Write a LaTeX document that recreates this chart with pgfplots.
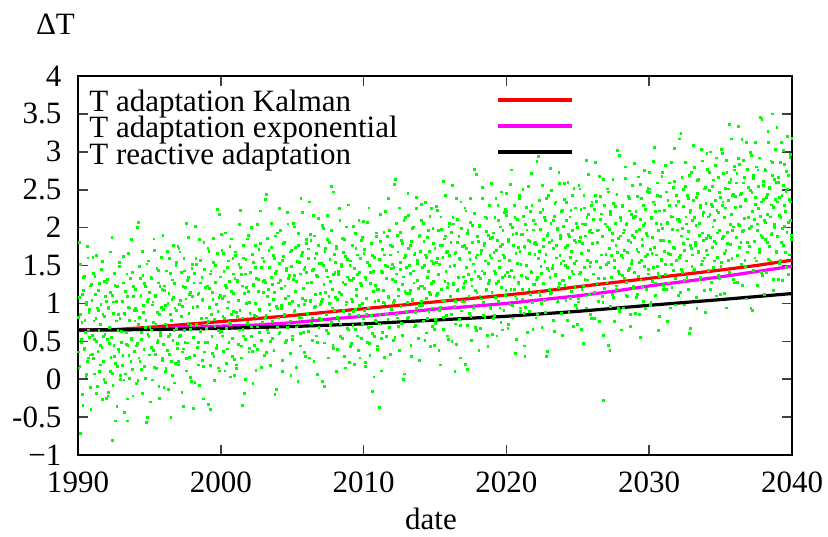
\documentclass[border=0pt]{standalone}
\usepackage{fontspec}
\setmainfont{Liberation Serif}
\usepackage{pgfplots}
\pgfplotsset{compat=1.18}
\definecolor{gp}{RGB}{0,255,0}
\definecolor{rd}{RGB}{255,0,0}
\definecolor{mg}{RGB}{255,0,255}
\definecolor{bk}{RGB}{0,0,0}
\begin{document}
\fontsize{15.5}{18}\selectfont
\begin{tikzpicture}
\useasboundingbox (-39pt,-40.5pt) rectangle (375pt,227.5pt);
\begin{axis}[
 at={(0,0)}, anchor=south west,
 scale only axis, width=357pt, height=189.5pt,
 xmin=1990, xmax=2040, ymin=-1, ymax=4,
 xtick={1990,2000,2010,2020,2030,2040},
 xticklabels={1990,2000,2010,2020,2030,2040},
 ytick={-1,-0.5,0,0.5,1,1.5,2,2.5,3,3.5,4},
 yticklabels={−1,-0.5,0,0.5,1,1.5,2,2.5,3,3.5,4},
 tick align=inside, major tick length=5pt,
 tick style={line width=0.8pt, color=black!75},
 axis line style={line width=1pt},
 xticklabel style={yshift=-3pt},
 yticklabel style={xshift=-3pt},
 ticklabel style={font=\fontsize{15.5}{18}\selectfont},
 xlabel={date},
 xlabel style={at={(axis description cs:0.4944,0)}, anchor=center, yshift=-32pt, font=\fontsize{15.5}{18}\selectfont},
 ylabel={ΔT},
 ylabel style={at={(axis description cs:0,1)}, rotate=-90, anchor=center, xshift=-11.25pt, yshift=25.75pt, font=\fontsize{15.5}{18}\selectfont},
 clip=true,
]
\addplot[only marks, mark=square*, mark size=0.45pt, color=gp, mark options={draw=none, fill=gp}] coordinates {
(1990.02,0.82)(1990.07,0.15)(1990.12,1.08)(1990.16,1.51)(1990.22,0.48)(1990.27,0.75)(1990.31,-0.20)(1990.37,1.17)(1990.42,0.39)(1990.46,1.36)(1990.52,0.62)(1990.57,0.99)(1990.61,0.06)(1990.67,1.75)(1990.72,0.28)(1990.76,0.88)(1990.82,0.55)(1990.87,1.23)(1990.91,-0.40)(1990.97,1.04)
(1991.02,0.33)(1991.07,1.40)(1991.12,0.77)(1991.16,0.07)(1991.22,1.12)(1991.27,0.50)(1991.31,1.63)(1991.37,-0.09)(1991.42,0.91)(1991.46,0.64)(1991.52,1.26)(1991.57,0.19)(1991.61,0.99)(1991.67,0.42)(1991.72,1.55)(1991.76,0.56)(1991.82,0.00)(1991.87,0.83)(1991.91,1.09)(1991.97,-0.25)
(1992.02,1.27)(1992.07,0.52)(1992.12,-0.17)(1992.16,0.93)(1992.22,0.68)(1992.27,1.15)(1992.31,0.29)(1992.37,1.87)(1992.42,0.08)(1992.46,1.02)(1992.52,0.45)(1992.57,1.40)(1992.61,0.21)(1992.67,0.77)(1992.72,-0.36)(1992.76,1.22)(1992.82,0.85)(1992.87,0.37)(1992.91,1.54)(1992.97,0.00)
(1993.02,0.63)(1993.07,1.03)(1993.12,0.18)(1993.16,1.62)(1993.22,-0.01)(1993.27,0.87)(1993.31,1.16)(1993.37,0.46)(1993.42,1.39)(1993.46,-0.26)(1993.52,0.95)(1993.57,0.31)(1993.61,0.78)(1993.67,1.33)(1993.72,0.54)(1993.76,1.84)(1993.82,0.13)(1993.87,1.09)(1993.91,0.37)(1993.97,0.91)
(1994.02,1.18)(1994.07,-0.06)(1994.12,0.91)(1994.16,0.47)(1994.22,2.07)(1994.27,0.28)(1994.31,0.82)(1994.37,1.33)(1994.42,0.62)(1994.46,0.13)(1994.52,1.69)(1994.57,0.97)(1994.61,0.39)(1994.67,1.26)(1994.72,0.01)(1994.76,0.78)(1994.82,1.52)(1994.87,-0.50)(1994.91,1.06)(1994.97,0.56)
(1995.02,1.14)(1995.07,-0.30)(1995.12,1.33)(1995.16,0.65)(1995.22,0.98)(1995.27,0.38)(1995.31,1.85)(1995.37,0.16)(1995.42,1.09)(1995.46,0.72)(1995.52,1.46)(1995.57,0.49)(1995.61,1.27)(1995.67,-0.10)(1995.72,0.85)(1995.76,0.58)(1995.82,1.61)(1995.87,1.18)(1995.91,0.25)(1995.97,0.92)
(1996.02,-0.11)(1996.07,1.23)(1996.12,0.97)(1996.16,0.14)(1996.22,0.70)(1996.27,1.69)(1996.31,0.56)(1996.37,1.13)(1996.42,0.33)(1996.46,1.40)(1996.52,0.78)(1996.57,1.05)(1996.61,0.05)(1996.67,1.77)(1996.72,0.64)(1996.76,1.26)(1996.82,0.21)(1996.87,0.91)(1996.91,1.54)(1996.97,0.47)
(1997.02,0.19)(1997.07,1.73)(1997.12,0.56)(1997.16,1.04)(1997.22,1.41)(1997.27,-0.17)(1997.31,0.96)(1997.37,0.40)(1997.42,1.59)(1997.46,0.64)(1997.52,1.21)(1997.57,0.27)(1997.61,2.06)(1997.67,0.48)(1997.72,1.34)(1997.76,0.87)(1997.82,1.12)(1997.87,0.02)(1997.91,0.71)(1997.97,1.46)
(1998.02,1.09)(1998.07,0.55)(1998.12,1.27)(1998.16,0.31)(1998.22,2.02)(1998.27,0.72)(1998.31,1.51)(1998.37,0.96)(1998.42,0.49)(1998.46,1.13)(1998.52,-0.08)(1998.57,1.57)(1998.61,0.64)(1998.67,1.34)(1998.72,1.05)(1998.76,0.17)(1998.82,1.80)(1998.87,0.36)(1998.91,1.21)(1998.97,0.81)
(1999.02,0.73)(1999.07,1.23)(1999.12,-0.33)(1999.16,1.69)(1999.22,0.95)(1999.27,0.18)(1999.31,1.43)(1999.37,0.56)(1999.42,1.14)(1999.46,1.86)(1999.52,0.30)(1999.57,0.79)(1999.61,1.50)(1999.67,0.99)(1999.72,0.45)(1999.76,2.24)(1999.82,0.64)(1999.87,1.08)(1999.91,0.11)(1999.97,1.35)
(2000.02,0.63)(2000.07,1.70)(2000.12,1.07)(2000.16,0.37)(2000.22,1.42)(2000.27,0.80)(2000.31,1.93)(2000.37,0.21)(2000.42,1.21)(2000.46,0.94)(2000.52,1.56)(2000.57,0.49)(2000.61,1.29)(2000.67,0.72)(2000.72,1.85)(2000.76,0.86)(2000.82,0.30)(2000.87,1.13)(2000.91,1.39)(2000.97,0.05)
(2001.02,1.63)(2001.07,0.88)(2001.12,0.19)(2001.16,1.29)(2001.22,1.04)(2001.27,1.51)(2001.31,0.65)(2001.37,2.23)(2001.42,0.44)(2001.46,1.38)(2001.52,0.81)(2001.57,1.76)(2001.61,0.57)(2001.67,1.13)(2001.72,0.00)(2001.76,1.58)(2001.82,1.21)(2001.87,0.73)(2001.91,1.90)(2001.97,0.36)
(2002.02,1.01)(2002.07,1.41)(2002.12,0.56)(2002.16,2.00)(2002.22,0.37)(2002.27,1.25)(2002.31,1.54)(2002.37,0.84)(2002.42,1.77)(2002.46,0.12)(2002.52,1.33)(2002.57,0.69)(2002.61,1.16)(2002.67,1.71)(2002.72,0.92)(2002.76,2.22)(2002.82,0.51)(2002.87,1.47)(2002.91,0.75)(2002.97,1.29)
(2003.02,1.55)(2003.07,0.31)(2003.12,1.28)(2003.16,0.84)(2003.22,2.44)(2003.27,0.65)(2003.31,1.19)(2003.37,1.70)(2003.42,0.99)(2003.46,0.50)(2003.52,2.06)(2003.57,1.34)(2003.61,0.76)(2003.67,1.63)(2003.72,0.38)(2003.76,1.15)(2003.82,1.89)(2003.87,-0.13)(2003.91,1.43)(2003.97,0.93)
(2004.02,1.27)(2004.07,0.60)(2004.12,1.53)(2004.16,1.96)(2004.22,0.93)(2004.27,1.20)(2004.31,0.25)(2004.37,1.62)(2004.42,0.84)(2004.46,1.81)(2004.52,1.07)(2004.57,1.44)(2004.61,0.51)(2004.67,2.20)(2004.72,0.73)(2004.76,1.33)(2004.82,1.00)(2004.87,1.68)(2004.91,0.05)(2004.97,1.49)
(2005.02,0.52)(2005.07,2.06)(2005.12,0.89)(2005.16,1.37)(2005.22,1.74)(2005.27,0.16)(2005.31,1.29)(2005.37,0.73)(2005.42,1.92)(2005.46,0.97)(2005.52,1.54)(2005.57,0.60)(2005.61,2.39)(2005.67,0.81)(2005.72,1.67)(2005.76,1.20)(2005.82,1.45)(2005.87,0.35)(2005.91,1.04)(2005.97,1.79)
(2006.02,1.41)(2006.07,0.87)(2006.12,1.59)(2006.16,0.63)(2006.22,2.34)(2006.27,1.04)(2006.31,1.83)(2006.37,1.28)(2006.42,0.81)(2006.46,1.45)(2006.52,0.24)(2006.57,1.89)(2006.61,0.96)(2006.67,1.66)(2006.72,1.37)(2006.76,0.49)(2006.82,2.12)(2006.87,0.68)(2006.91,1.53)(2006.97,1.13)
(2007.02,1.03)(2007.07,1.53)(2007.12,-0.03)(2007.16,1.99)(2007.22,1.25)(2007.27,0.48)(2007.31,1.73)(2007.37,0.86)(2007.42,1.44)(2007.46,2.16)(2007.52,0.60)(2007.57,1.09)(2007.61,1.80)(2007.67,1.29)(2007.72,0.75)(2007.76,2.54)(2007.82,0.94)(2007.87,1.38)(2007.91,0.41)(2007.97,1.65)
(2008.02,1.54)(2008.07,0.10)(2008.12,1.73)(2008.16,1.05)(2008.22,1.38)(2008.27,0.78)(2008.31,2.25)(2008.37,0.56)(2008.42,1.49)(2008.46,1.12)(2008.52,1.86)(2008.57,0.89)(2008.61,1.67)(2008.67,0.30)(2008.72,1.25)(2008.76,0.98)(2008.82,2.01)(2008.87,1.58)(2008.91,0.65)(2008.97,1.32)
(2009.02,0.22)(2009.07,1.56)(2009.12,1.30)(2009.16,0.47)(2009.22,1.03)(2009.27,2.02)(2009.31,0.89)(2009.37,1.46)(2009.42,0.66)(2009.46,1.73)(2009.52,1.11)(2009.57,1.38)(2009.61,0.38)(2009.67,2.10)(2009.72,0.97)(2009.76,1.59)(2009.82,0.54)(2009.87,1.24)(2009.91,1.87)(2009.97,0.80)
(2010.02,1.66)(2010.07,0.91)(2010.12,0.22)(2010.16,1.32)(2010.22,1.07)(2010.27,1.54)(2010.31,0.68)(2010.37,2.26)(2010.42,0.47)(2010.46,1.41)(2010.52,0.84)(2010.57,1.79)(2010.61,0.60)(2010.67,1.16)(2010.72,0.03)(2010.76,1.61)(2010.82,1.24)(2010.87,0.76)(2010.91,1.93)(2010.97,0.39)
(2011.02,1.18)(2011.07,1.58)(2011.12,0.73)(2011.16,2.17)(2011.22,0.54)(2011.27,1.42)(2011.31,1.71)(2011.37,1.01)(2011.42,1.94)(2011.46,0.29)(2011.52,1.50)(2011.57,0.86)(2011.61,1.33)(2011.67,1.88)(2011.72,1.09)(2011.76,2.39)(2011.82,0.68)(2011.87,1.64)(2011.91,0.92)(2011.97,1.46)
(2012.02,1.75)(2012.07,0.51)(2012.12,1.48)(2012.16,1.04)(2012.22,2.64)(2012.27,0.85)(2012.31,1.39)(2012.37,1.90)(2012.42,1.19)(2012.46,0.70)(2012.52,2.26)(2012.57,1.54)(2012.61,0.96)(2012.67,1.83)(2012.72,0.58)(2012.76,1.35)(2012.82,2.09)(2012.87,0.07)(2012.91,1.63)(2012.97,1.13)
(2013.02,1.47)(2013.07,0.80)(2013.12,1.73)(2013.16,2.16)(2013.22,1.13)(2013.27,1.40)(2013.31,0.45)(2013.37,1.82)(2013.42,1.04)(2013.46,2.01)(2013.52,1.27)(2013.57,1.64)(2013.61,0.71)(2013.67,2.40)(2013.72,0.93)(2013.76,1.53)(2013.82,1.20)(2013.87,1.88)(2013.91,0.25)(2013.97,1.69)
(2014.02,1.03)(2014.07,2.10)(2014.12,1.47)(2014.16,0.77)(2014.22,1.82)(2014.27,1.20)(2014.31,2.33)(2014.37,0.61)(2014.42,1.61)(2014.46,1.34)(2014.52,1.96)(2014.57,0.89)(2014.61,1.69)(2014.67,1.12)(2014.72,2.25)(2014.76,1.26)(2014.82,0.70)(2014.87,1.53)(2014.91,1.79)(2014.97,0.45)
(2015.02,0.74)(2015.07,2.28)(2015.12,1.11)(2015.16,1.59)(2015.22,1.96)(2015.27,0.38)(2015.31,1.51)(2015.37,0.95)(2015.42,2.14)(2015.46,1.19)(2015.52,1.76)(2015.57,0.82)(2015.61,2.61)(2015.67,1.03)(2015.72,1.89)(2015.76,1.42)(2015.82,1.67)(2015.87,0.57)(2015.91,1.26)(2015.97,2.01)
(2016.02,1.63)(2016.07,1.09)(2016.12,1.81)(2016.16,0.85)(2016.22,2.56)(2016.27,1.26)(2016.31,2.05)(2016.37,1.50)(2016.42,1.03)(2016.46,1.67)(2016.52,0.46)(2016.57,2.11)(2016.61,1.18)(2016.67,1.88)(2016.72,1.59)(2016.76,0.71)(2016.82,2.34)(2016.87,0.90)(2016.91,1.75)(2016.97,1.35)
(2017.02,1.26)(2017.07,1.76)(2017.12,0.20)(2017.16,2.22)(2017.22,1.48)(2017.27,0.71)(2017.31,1.96)(2017.37,1.09)(2017.42,1.67)(2017.46,2.39)(2017.52,0.83)(2017.57,1.32)(2017.61,2.03)(2017.67,1.52)(2017.72,0.98)(2017.76,2.77)(2017.82,1.17)(2017.87,1.61)(2017.91,0.64)(2017.97,1.88)
(2018.02,1.82)(2018.07,0.38)(2018.12,2.01)(2018.16,1.33)(2018.22,1.66)(2018.27,1.06)(2018.31,2.53)(2018.37,0.84)(2018.42,1.77)(2018.46,1.40)(2018.52,2.14)(2018.57,1.17)(2018.61,1.95)(2018.67,0.58)(2018.72,1.53)(2018.76,1.26)(2018.82,2.29)(2018.87,1.86)(2018.91,0.93)(2018.97,1.60)
(2019.02,0.59)(2019.07,1.93)(2019.12,1.67)(2019.16,0.84)(2019.22,1.40)(2019.27,2.39)(2019.31,1.26)(2019.37,1.83)(2019.42,1.03)(2019.46,2.10)(2019.52,1.48)(2019.57,1.75)(2019.61,0.75)(2019.67,2.47)(2019.72,1.34)(2019.76,1.96)(2019.82,0.91)(2019.87,1.61)(2019.91,2.24)(2019.97,1.17)
(2020.02,2.16)(2020.07,1.41)(2020.12,0.72)(2020.16,1.82)(2020.22,1.57)(2020.27,2.04)(2020.31,1.18)(2020.37,2.76)(2020.42,0.97)(2020.46,1.91)(2020.52,1.34)(2020.57,2.29)(2020.61,1.10)(2020.67,1.66)(2020.72,0.53)(2020.76,2.11)(2020.82,1.74)(2020.87,1.26)(2020.91,2.43)(2020.97,0.89)
(2021.02,1.51)(2021.07,1.91)(2021.12,1.06)(2021.16,2.50)(2021.22,0.87)(2021.27,1.75)(2021.31,2.04)(2021.37,1.34)(2021.42,2.27)(2021.46,0.62)(2021.52,1.83)(2021.57,1.19)(2021.61,1.66)(2021.67,2.21)(2021.72,1.42)(2021.76,2.72)(2021.82,1.01)(2021.87,1.97)(2021.91,1.25)(2021.97,1.79)
(2022.02,2.05)(2022.07,0.81)(2022.12,1.78)(2022.16,1.34)(2022.22,2.94)(2022.27,1.15)(2022.31,1.69)(2022.37,2.20)(2022.42,1.49)(2022.46,1.00)(2022.52,2.56)(2022.57,1.84)(2022.61,1.26)(2022.67,2.13)(2022.72,0.88)(2022.76,1.65)(2022.82,2.39)(2022.87,0.37)(2022.91,1.93)(2022.97,1.43)
(2023.02,1.80)(2023.07,1.13)(2023.12,2.06)(2023.16,2.49)(2023.22,1.46)(2023.27,1.73)(2023.31,0.78)(2023.37,2.15)(2023.42,1.37)(2023.46,2.34)(2023.52,1.60)(2023.57,1.97)(2023.61,1.04)(2023.67,2.73)(2023.72,1.26)(2023.76,1.86)(2023.82,1.53)(2023.87,2.21)(2023.91,0.58)(2023.97,2.02)
(2024.02,1.30)(2024.07,2.37)(2024.12,1.74)(2024.16,1.04)(2024.22,2.09)(2024.27,1.47)(2024.31,2.60)(2024.37,0.88)(2024.42,1.88)(2024.46,1.61)(2024.52,2.23)(2024.57,1.16)(2024.61,1.96)(2024.67,1.39)(2024.72,2.52)(2024.76,1.53)(2024.82,0.97)(2024.87,1.80)(2024.91,2.06)(2024.97,0.72)
(2025.02,1.02)(2025.07,2.56)(2025.12,1.39)(2025.16,1.87)(2025.22,2.24)(2025.27,0.66)(2025.31,1.79)(2025.37,1.23)(2025.42,2.42)(2025.46,1.47)(2025.52,2.04)(2025.57,1.10)(2025.61,2.89)(2025.67,1.31)(2025.72,2.17)(2025.76,1.70)(2025.82,1.95)(2025.87,0.85)(2025.91,1.54)(2025.97,2.29)
(2026.02,1.93)(2026.07,1.39)(2026.12,2.11)(2026.16,1.15)(2026.22,2.86)(2026.27,1.56)(2026.31,2.35)(2026.37,1.80)(2026.42,1.33)(2026.46,1.97)(2026.52,0.76)(2026.57,2.41)(2026.61,1.48)(2026.67,2.18)(2026.72,1.89)(2026.76,1.01)(2026.82,2.64)(2026.87,1.20)(2026.91,2.05)(2026.97,1.65)
(2027.02,1.51)(2027.07,2.01)(2027.12,0.45)(2027.16,2.47)(2027.22,1.73)(2027.27,0.96)(2027.31,2.21)(2027.37,1.34)(2027.42,1.92)(2027.46,2.64)(2027.52,1.08)(2027.57,1.57)(2027.61,2.28)(2027.67,1.77)(2027.72,1.23)(2027.76,3.02)(2027.82,1.42)(2027.87,1.86)(2027.91,0.89)(2027.97,2.13)
(2028.02,2.09)(2028.07,0.65)(2028.12,2.28)(2028.16,1.60)(2028.22,1.93)(2028.27,1.33)(2028.31,2.80)(2028.37,1.11)(2028.42,2.04)(2028.46,1.67)(2028.52,2.41)(2028.57,1.44)(2028.61,2.22)(2028.67,0.85)(2028.72,1.80)(2028.76,1.53)(2028.82,2.56)(2028.87,2.13)(2028.91,1.20)(2028.97,1.87)
(2029.02,0.87)(2029.07,2.21)(2029.12,1.95)(2029.16,1.12)(2029.22,1.68)(2029.27,2.67)(2029.31,1.54)(2029.37,2.11)(2029.42,1.31)(2029.46,2.38)(2029.52,1.76)(2029.57,2.03)(2029.61,1.03)(2029.67,2.75)(2029.72,1.62)(2029.76,2.24)(2029.82,1.19)(2029.87,1.89)(2029.91,2.52)(2029.97,1.45)
(2030.02,2.46)(2030.07,1.71)(2030.12,1.02)(2030.16,2.12)(2030.22,1.87)(2030.27,2.34)(2030.31,1.48)(2030.37,3.06)(2030.42,1.27)(2030.46,2.21)(2030.52,1.64)(2030.57,2.59)(2030.61,1.40)(2030.67,1.96)(2030.72,0.83)(2030.76,2.41)(2030.82,2.04)(2030.87,1.56)(2030.91,2.73)(2030.97,1.19)
(2031.02,1.83)(2031.07,2.23)(2031.12,1.38)(2031.16,2.82)(2031.22,1.19)(2031.27,2.07)(2031.31,2.36)(2031.37,1.66)(2031.42,2.59)(2031.46,0.94)(2031.52,2.15)(2031.57,1.51)(2031.61,1.98)(2031.67,2.53)(2031.72,1.74)(2031.76,3.04)(2031.82,1.33)(2031.87,2.29)(2031.91,1.57)(2031.97,2.11)
(2032.02,2.35)(2032.07,1.11)(2032.12,2.08)(2032.16,1.64)(2032.22,3.24)(2032.27,1.45)(2032.31,1.99)(2032.37,2.50)(2032.42,1.79)(2032.46,1.30)(2032.52,2.86)(2032.57,2.14)(2032.61,1.56)(2032.67,2.43)(2032.72,1.18)(2032.76,1.95)(2032.82,2.69)(2032.87,0.67)(2032.91,2.23)(2032.97,1.73)
(2033.02,2.10)(2033.07,1.43)(2033.12,2.36)(2033.16,2.79)(2033.22,1.76)(2033.27,2.03)(2033.31,1.08)(2033.37,2.45)(2033.42,1.67)(2033.46,2.64)(2033.52,1.90)(2033.57,2.27)(2033.61,1.34)(2033.67,3.03)(2033.72,1.56)(2033.76,2.16)(2033.82,1.83)(2033.87,2.51)(2033.91,0.88)(2033.97,2.32)
(2034.02,1.70)(2034.07,2.77)(2034.12,2.14)(2034.16,1.44)(2034.22,2.49)(2034.27,1.87)(2034.31,3.00)(2034.37,1.28)(2034.42,2.28)(2034.46,2.01)(2034.52,2.63)(2034.57,1.56)(2034.61,2.36)(2034.67,1.79)(2034.72,2.92)(2034.76,1.93)(2034.82,1.37)(2034.87,2.20)(2034.91,2.46)(2034.97,1.12)
(2035.02,1.49)(2035.07,3.03)(2035.12,1.86)(2035.16,2.34)(2035.22,2.71)(2035.27,1.13)(2035.31,2.26)(2035.37,1.70)(2035.42,2.89)(2035.46,1.94)(2035.52,2.51)(2035.57,1.57)(2035.61,3.36)(2035.67,1.78)(2035.72,2.64)(2035.76,2.17)(2035.82,2.42)(2035.87,1.32)(2035.91,2.01)(2035.97,2.76)
(2036.02,2.41)(2036.07,1.87)(2036.12,2.59)(2036.16,1.63)(2036.22,3.34)(2036.27,2.04)(2036.31,2.83)(2036.37,2.28)(2036.42,1.81)(2036.46,2.45)(2036.52,1.24)(2036.57,2.89)(2036.61,1.96)(2036.67,2.66)(2036.72,2.37)(2036.76,1.49)(2036.82,3.12)(2036.87,1.68)(2036.91,2.53)(2036.97,2.13)
(2037.02,1.99)(2037.07,2.49)(2037.12,0.93)(2037.16,2.95)(2037.22,2.21)(2037.27,1.44)(2037.31,2.69)(2037.37,1.82)(2037.42,2.40)(2037.46,3.12)(2037.52,1.56)(2037.57,2.05)(2037.61,2.76)(2037.67,2.25)(2037.72,1.71)(2037.76,3.45)(2037.82,1.90)(2037.87,2.34)(2037.91,1.37)(2037.97,2.61)
(2038.02,2.56)(2038.07,1.12)(2038.12,2.75)(2038.16,2.07)(2038.22,2.40)(2038.27,1.80)(2038.31,3.27)(2038.37,1.58)(2038.42,2.51)(2038.46,2.14)(2038.52,2.88)(2038.57,1.91)(2038.61,2.69)(2038.67,1.32)(2038.72,2.27)(2038.76,2.00)(2038.82,3.03)(2038.87,2.60)(2038.91,1.67)(2038.97,2.34)
(2039.02,1.32)(2039.07,2.66)(2039.12,2.40)(2039.16,1.57)(2039.22,2.13)(2039.27,3.12)(2039.31,1.99)(2039.37,2.56)(2039.42,1.76)(2039.46,2.83)(2039.52,2.21)(2039.57,2.48)(2039.61,1.48)(2039.67,3.20)(2039.72,2.07)(2039.76,2.69)(2039.82,1.64)(2039.87,2.34)(2039.91,2.97)(2039.97,1.90)
(1990.15,-0.72)(1992.40,-0.81)(1993.45,-0.55)(1996.50,-0.50)(1998.10,-0.38)(2011.10,-0.37)(2026.80,-0.28)(2038.60,3.50)(2016.40,0.10)(2021.30,0.30)(2029.40,0.55)(2001.50,-0.35)
};
\addplot[only marks, mark=square*, mark size=0.45pt, color=gp, mark options={draw=none, fill=gp}] coordinates {
(1990.04,0.36)(1990.10,1.80)(1990.14,0.17)(1990.19,0.85)(1990.25,0.52)(1990.29,1.12)(1990.34,-0.35)(1990.40,1.34)(1990.44,0.41)(1990.49,0.78)(1990.55,0.04)(1990.59,1.01)(1990.64,0.23)(1990.70,1.60)(1990.74,0.65)(1990.79,0.92)(1990.85,-0.11)(1990.89,0.32)(1990.94,1.25)(1990.99,0.58)
(1991.04,1.61)(1991.10,0.27)(1991.14,0.53)(1991.19,1.36)(1991.25,0.80)(1991.29,-0.19)(1991.34,0.94)(1991.40,0.37)(1991.44,1.17)(1991.49,0.10)(1991.55,0.72)(1991.59,0.45)(1991.64,1.45)(1991.70,-0.27)(1991.74,0.86)(1991.79,0.24)(1991.85,1.29)(1991.89,0.59)(1991.94,-0.04)(1991.99,1.03)
(1992.04,1.32)(1992.10,-0.22)(1992.14,0.95)(1992.19,0.47)(1992.25,0.10)(1992.29,1.68)(1992.34,0.55)(1992.40,1.11)(1992.44,-0.08)(1992.49,0.87)(1992.55,0.30)(1992.59,1.24)(1992.64,-0.55)(1992.70,1.03)(1992.74,0.17)(1992.79,0.64)(1992.85,0.39)(1992.89,1.49)(1992.94,0.80)(1992.99,0.05)
(1993.04,0.49)(1993.10,1.03)(1993.14,0.31)(1993.19,1.27)(1993.25,-0.44)(1993.29,0.86)(1993.34,0.07)(1993.40,0.62)(1993.44,1.09)(1993.49,0.45)(1993.55,1.66)(1993.59,0.01)(1993.64,0.94)(1993.70,0.24)(1993.74,0.53)(1993.79,1.41)(1993.85,-0.22)(1993.89,1.22)(1993.94,0.37)(1993.99,0.77)
(1994.04,0.94)(1994.10,0.44)(1994.14,2.00)(1994.19,-0.02)(1994.25,0.72)(1994.29,1.49)(1994.34,0.24)(1994.40,1.11)(1994.44,0.53)(1994.49,-0.19)(1994.55,1.37)(1994.59,0.88)(1994.64,0.17)(1994.70,0.68)(1994.74,1.22)(1994.79,-0.57)(1994.85,1.03)(1994.89,0.59)(1994.94,1.56)(1994.99,0.32)
(1995.04,0.68)(1995.10,1.35)(1995.14,0.42)(1995.19,-0.01)(1995.25,1.02)(1995.29,0.75)(1995.34,1.70)(1995.40,0.33)(1995.44,1.11)(1995.49,0.14)(1995.55,0.88)(1995.59,0.51)(1995.64,1.44)(1995.70,-0.25)(1995.74,1.22)(1995.79,0.62)(1995.85,0.95)(1995.89,0.27)(1995.94,1.90)(1995.99,0.46)
(1996.04,1.17)(1996.10,0.10)(1996.14,0.73)(1996.19,1.43)(1996.25,0.38)(1996.29,1.00)(1996.34,-0.13)(1996.40,1.59)(1996.44,0.59)(1996.49,0.86)(1996.55,0.24)(1996.59,1.31)(1996.64,0.51)(1996.70,1.08)(1996.74,-0.05)(1996.79,0.94)(1996.85,1.50)(1996.89,0.67)(1996.94,0.41)(1996.99,1.75)
(1997.04,0.24)(1997.10,0.99)(1997.14,1.68)(1997.19,0.58)(1997.25,0.83)(1997.29,0.36)(1997.34,1.22)(1997.40,-0.36)(1997.44,1.43)(1997.49,0.49)(1997.55,1.06)(1997.59,0.11)(1997.64,1.30)(1997.70,0.74)(1997.74,1.87)(1997.79,0.29)(1997.85,0.66)(1997.89,1.14)(1997.94,-0.03)(1997.99,1.51)
(1998.04,0.95)(1998.10,0.55)(1998.14,1.40)(1998.19,-0.04)(1998.25,1.59)(1998.29,0.71)(1998.34,0.42)(1998.40,1.12)(1998.44,0.19)(1998.49,1.84)(1998.55,0.63)(1998.59,1.27)(1998.64,0.80)(1998.70,0.25)(1998.74,1.04)(1998.79,-0.26)(1998.85,1.45)(1998.89,0.49)(1998.94,1.21)(1998.99,0.67)
(1999.04,0.49)(1999.10,1.73)(1999.14,0.76)(1999.19,1.20)(1999.25,-0.40)(1999.29,1.39)(1999.34,0.85)(1999.40,0.34)(1999.44,1.05)(1999.49,1.54)(1999.55,-0.02)(1999.59,0.70)(1999.64,1.28)(1999.70,0.41)(1999.74,1.66)(1999.79,0.89)(1999.85,0.15)(1999.89,2.17)(1999.94,0.61)(1999.99,1.11)
(2000.04,1.91)(2000.10,0.57)(2000.14,0.83)(2000.19,1.66)(2000.25,1.10)(2000.29,0.11)(2000.34,1.24)(2000.40,0.67)(2000.44,1.47)(2000.49,0.40)(2000.55,1.02)(2000.59,0.75)(2000.64,1.75)(2000.70,0.03)(2000.74,1.16)(2000.79,0.54)(2000.85,1.59)(2000.89,0.89)(2000.94,0.26)(2000.99,1.33)
(2001.04,1.68)(2001.10,0.14)(2001.14,1.31)(2001.19,0.83)(2001.25,0.46)(2001.29,2.04)(2001.34,0.91)(2001.40,1.47)(2001.44,0.28)(2001.49,1.23)(2001.55,0.66)(2001.59,1.60)(2001.64,-0.19)(2001.70,1.39)(2001.74,0.53)(2001.79,1.00)(2001.85,0.75)(2001.89,1.85)(2001.94,1.16)(2001.99,0.41)
(2002.04,0.87)(2002.10,1.41)(2002.14,0.69)(2002.19,1.65)(2002.25,-0.06)(2002.29,1.24)(2002.34,0.45)(2002.40,1.00)(2002.44,1.47)(2002.49,0.83)(2002.55,2.04)(2002.59,0.39)(2002.64,1.32)(2002.70,0.62)(2002.74,0.91)(2002.79,1.79)(2002.85,0.16)(2002.89,1.60)(2002.94,0.75)(2002.99,1.15)
(2003.04,1.31)(2003.10,0.81)(2003.14,2.37)(2003.19,0.35)(2003.25,1.09)(2003.29,1.86)(2003.34,0.61)(2003.40,1.48)(2003.44,0.90)(2003.49,0.18)(2003.55,1.74)(2003.59,1.25)(2003.64,0.54)(2003.70,1.05)(2003.74,1.59)(2003.79,-0.20)(2003.85,1.40)(2003.89,0.96)(2003.94,1.93)(2003.99,0.69)
(2004.04,0.81)(2004.10,2.25)(2004.14,0.62)(2004.19,1.30)(2004.25,0.97)(2004.29,1.57)(2004.34,0.10)(2004.40,1.79)(2004.44,0.86)(2004.49,1.23)(2004.55,0.49)(2004.59,1.46)(2004.64,0.68)(2004.70,2.05)(2004.74,1.10)(2004.79,1.37)(2004.85,0.34)(2004.89,0.77)(2004.94,1.70)(2004.99,1.03)
(2005.04,0.57)(2005.10,1.32)(2005.14,2.01)(2005.19,0.91)(2005.25,1.16)(2005.29,0.69)(2005.34,1.55)(2005.40,-0.03)(2005.44,1.76)(2005.49,0.82)(2005.55,1.39)(2005.59,0.44)(2005.64,1.63)(2005.70,1.07)(2005.74,2.20)(2005.79,0.62)(2005.85,0.99)(2005.89,1.47)(2005.94,0.30)(2005.99,1.84)
(2006.04,1.27)(2006.10,0.87)(2006.14,1.72)(2006.19,0.28)(2006.25,1.91)(2006.29,1.03)(2006.34,0.74)(2006.40,1.44)(2006.44,0.51)(2006.49,2.16)(2006.55,0.95)(2006.59,1.59)(2006.64,1.12)(2006.70,0.57)(2006.74,1.36)(2006.79,0.06)(2006.85,1.77)(2006.89,0.81)(2006.94,1.53)(2006.99,0.99)
(2007.04,0.79)(2007.10,2.03)(2007.14,1.06)(2007.19,1.50)(2007.25,-0.10)(2007.29,1.69)(2007.34,1.15)(2007.40,0.64)(2007.44,1.35)(2007.49,1.84)(2007.55,0.28)(2007.59,1.00)(2007.64,1.58)(2007.70,0.71)(2007.74,1.96)(2007.79,1.19)(2007.85,0.45)(2007.89,2.47)(2007.94,0.91)(2007.99,1.41)
(2008.04,1.08)(2008.10,1.75)(2008.14,0.82)(2008.19,0.39)(2008.25,1.42)(2008.29,1.15)(2008.34,2.10)(2008.40,0.73)(2008.44,1.51)(2008.49,0.54)(2008.55,1.28)(2008.59,0.91)(2008.64,1.84)(2008.70,0.15)(2008.74,1.62)(2008.79,1.02)(2008.85,1.35)(2008.89,0.67)(2008.94,2.30)(2008.99,0.86)
(2009.04,1.50)(2009.10,0.43)(2009.14,1.06)(2009.19,1.76)(2009.25,0.71)(2009.29,1.33)(2009.34,0.20)(2009.40,1.92)(2009.44,0.92)(2009.49,1.19)(2009.55,0.57)(2009.59,1.64)(2009.64,0.84)(2009.70,1.41)(2009.74,0.28)(2009.79,1.27)(2009.85,1.83)(2009.89,1.00)(2009.94,0.74)(2009.99,2.08)
(2010.04,1.71)(2010.10,0.17)(2010.14,1.34)(2010.19,0.86)(2010.25,0.49)(2010.29,2.07)(2010.34,0.94)(2010.40,1.50)(2010.44,0.31)(2010.49,1.26)(2010.55,0.69)(2010.59,1.63)(2010.64,-0.16)(2010.70,1.42)(2010.74,0.56)(2010.79,1.03)(2010.85,0.78)(2010.89,1.88)(2010.94,1.19)(2010.99,0.44)
(2011.04,1.04)(2011.10,1.58)(2011.14,0.86)(2011.19,1.82)(2011.25,0.11)(2011.29,1.41)(2011.34,0.62)(2011.40,1.17)(2011.44,1.64)(2011.49,1.00)(2011.55,2.21)(2011.59,0.56)(2011.64,1.49)(2011.70,0.79)(2011.74,1.08)(2011.79,1.96)(2011.85,0.33)(2011.89,1.77)(2011.94,0.92)(2011.99,1.32)
(2012.04,1.51)(2012.10,1.01)(2012.14,2.57)(2012.19,0.55)(2012.25,1.29)(2012.29,2.06)(2012.34,0.81)(2012.40,1.68)(2012.44,1.10)(2012.49,0.38)(2012.55,1.94)(2012.59,1.45)(2012.64,0.74)(2012.70,1.25)(2012.74,1.79)(2012.79,0.00)(2012.85,1.60)(2012.89,1.16)(2012.94,2.13)(2012.99,0.89)
(2013.04,1.01)(2013.10,2.45)(2013.14,0.82)(2013.19,1.50)(2013.25,1.17)(2013.29,1.77)(2013.34,0.30)(2013.40,1.99)(2013.44,1.06)(2013.49,1.43)(2013.55,0.69)(2013.59,1.66)(2013.64,0.88)(2013.70,2.25)(2013.74,1.30)(2013.79,1.57)(2013.85,0.54)(2013.89,0.97)(2013.94,1.90)(2013.99,1.23)
(2014.04,2.31)(2014.10,0.97)(2014.14,1.23)(2014.19,2.06)(2014.25,1.50)(2014.29,0.51)(2014.34,1.64)(2014.40,1.07)(2014.44,1.87)(2014.49,0.80)(2014.55,1.42)(2014.59,1.15)(2014.64,2.15)(2014.70,0.43)(2014.74,1.56)(2014.79,0.94)(2014.85,1.99)(2014.89,1.29)(2014.94,0.66)(2014.99,1.73)
(2015.04,0.79)(2015.10,1.54)(2015.14,2.23)(2015.19,1.13)(2015.25,1.38)(2015.29,0.91)(2015.34,1.77)(2015.40,0.19)(2015.44,1.98)(2015.49,1.04)(2015.55,1.61)(2015.59,0.66)(2015.64,1.85)(2015.70,1.29)(2015.74,2.42)(2015.79,0.84)(2015.85,1.21)(2015.89,1.69)(2015.94,0.52)(2015.99,2.06)
(2016.04,1.49)(2016.10,1.09)(2016.14,1.94)(2016.19,0.50)(2016.25,2.13)(2016.29,1.25)(2016.34,0.96)(2016.40,1.66)(2016.44,0.73)(2016.49,2.38)(2016.55,1.17)(2016.59,1.81)(2016.64,1.34)(2016.70,0.79)(2016.74,1.58)(2016.79,0.28)(2016.85,1.99)(2016.89,1.03)(2016.94,1.75)(2016.99,1.21)
(2017.04,1.02)(2017.10,2.26)(2017.14,1.29)(2017.19,1.73)(2017.25,0.13)(2017.29,1.92)(2017.34,1.38)(2017.40,0.87)(2017.44,1.58)(2017.49,2.07)(2017.55,0.51)(2017.59,1.23)(2017.64,1.81)(2017.70,0.94)(2017.74,2.19)(2017.79,1.42)(2017.85,0.68)(2017.89,2.70)(2017.94,1.14)(2017.99,1.64)
(2018.04,1.36)(2018.10,2.03)(2018.14,1.10)(2018.19,0.67)(2018.25,1.70)(2018.29,1.43)(2018.34,2.38)(2018.40,1.01)(2018.44,1.79)(2018.49,0.82)(2018.55,1.56)(2018.59,1.19)(2018.64,2.12)(2018.70,0.43)(2018.74,1.90)(2018.79,1.30)(2018.85,1.63)(2018.89,0.95)(2018.94,2.58)(2018.99,1.14)
(2019.04,1.87)(2019.10,0.80)(2019.14,1.43)(2019.19,2.13)(2019.25,1.08)(2019.29,1.70)(2019.34,0.57)(2019.40,2.29)(2019.44,1.29)(2019.49,1.56)(2019.55,0.94)(2019.59,2.01)(2019.64,1.21)(2019.70,1.78)(2019.74,0.65)(2019.79,1.64)(2019.85,2.20)(2019.89,1.37)(2019.94,1.11)(2019.99,2.45)
(2020.04,2.21)(2020.10,0.67)(2020.14,1.84)(2020.19,1.36)(2020.25,0.99)(2020.29,2.57)(2020.34,1.44)(2020.40,2.00)(2020.44,0.81)(2020.49,1.76)(2020.55,1.19)(2020.59,2.13)(2020.64,0.34)(2020.70,1.92)(2020.74,1.06)(2020.79,1.53)(2020.85,1.28)(2020.89,2.38)(2020.94,1.69)(2020.99,0.94)
(2021.04,1.37)(2021.10,1.91)(2021.14,1.19)(2021.19,2.15)(2021.25,0.44)(2021.29,1.74)(2021.34,0.95)(2021.40,1.50)(2021.44,1.97)(2021.49,1.33)(2021.55,2.54)(2021.59,0.89)(2021.64,1.82)(2021.70,1.12)(2021.74,1.41)(2021.79,2.29)(2021.85,0.66)(2021.89,2.10)(2021.94,1.25)(2021.99,1.65)
(2022.04,1.81)(2022.10,1.31)(2022.14,2.87)(2022.19,0.85)(2022.25,1.59)(2022.29,2.36)(2022.34,1.11)(2022.40,1.98)(2022.44,1.40)(2022.49,0.68)(2022.55,2.24)(2022.59,1.75)(2022.64,1.04)(2022.70,1.55)(2022.74,2.09)(2022.79,0.30)(2022.85,1.90)(2022.89,1.46)(2022.94,2.43)(2022.99,1.19)
(2023.04,1.34)(2023.10,2.78)(2023.14,1.15)(2023.19,1.83)(2023.25,1.50)(2023.29,2.10)(2023.34,0.63)(2023.40,2.32)(2023.44,1.39)(2023.49,1.76)(2023.55,1.02)(2023.59,1.99)(2023.64,1.21)(2023.70,2.58)(2023.74,1.63)(2023.79,1.90)(2023.85,0.87)(2023.89,1.30)(2023.94,2.23)(2023.99,1.56)
(2024.04,2.58)(2024.10,1.24)(2024.14,1.50)(2024.19,2.33)(2024.25,1.77)(2024.29,0.78)(2024.34,1.91)(2024.40,1.34)(2024.44,2.14)(2024.49,1.07)(2024.55,1.69)(2024.59,1.42)(2024.64,2.42)(2024.70,0.70)(2024.74,1.83)(2024.79,1.21)(2024.85,2.26)(2024.89,1.56)(2024.94,0.93)(2024.99,2.00)
(2025.04,1.07)(2025.10,1.82)(2025.14,2.51)(2025.19,1.41)(2025.25,1.66)(2025.29,1.19)(2025.34,2.05)(2025.40,0.47)(2025.44,2.26)(2025.49,1.32)(2025.55,1.89)(2025.59,0.94)(2025.64,2.13)(2025.70,1.57)(2025.74,2.70)(2025.79,1.12)(2025.85,1.49)(2025.89,1.97)(2025.94,0.80)(2025.99,2.34)
(2026.04,1.79)(2026.10,1.39)(2026.14,2.24)(2026.19,0.80)(2026.25,2.43)(2026.29,1.55)(2026.34,1.26)(2026.40,1.96)(2026.44,1.03)(2026.49,2.68)(2026.55,1.47)(2026.59,2.11)(2026.64,1.64)(2026.70,1.09)(2026.74,1.88)(2026.79,0.58)(2026.85,2.29)(2026.89,1.33)(2026.94,2.05)(2026.99,1.51)
(2027.04,1.27)(2027.10,2.51)(2027.14,1.54)(2027.19,1.98)(2027.25,0.38)(2027.29,2.17)(2027.34,1.63)(2027.40,1.12)(2027.44,1.83)(2027.49,2.32)(2027.55,0.76)(2027.59,1.48)(2027.64,2.06)(2027.70,1.19)(2027.74,2.44)(2027.79,1.67)(2027.85,0.93)(2027.89,2.95)(2027.94,1.39)(2027.99,1.89)
(2028.04,1.63)(2028.10,2.30)(2028.14,1.37)(2028.19,0.94)(2028.25,1.97)(2028.29,1.70)(2028.34,2.65)(2028.40,1.28)(2028.44,2.06)(2028.49,1.09)(2028.55,1.83)(2028.59,1.46)(2028.64,2.39)(2028.70,0.70)(2028.74,2.17)(2028.79,1.57)(2028.85,1.90)(2028.89,1.22)(2028.94,2.85)(2028.99,1.41)
(2029.04,2.15)(2029.10,1.08)(2029.14,1.71)(2029.19,2.41)(2029.25,1.36)(2029.29,1.98)(2029.34,0.85)(2029.40,2.57)(2029.44,1.57)(2029.49,1.84)(2029.55,1.22)(2029.59,2.29)(2029.64,1.49)(2029.70,2.06)(2029.74,0.93)(2029.79,1.92)(2029.85,2.48)(2029.89,1.65)(2029.94,1.39)(2029.99,2.73)
(2030.04,2.51)(2030.10,0.97)(2030.14,2.14)(2030.19,1.66)(2030.25,1.29)(2030.29,2.87)(2030.34,1.74)(2030.40,2.30)(2030.44,1.11)(2030.49,2.06)(2030.55,1.49)(2030.59,2.43)(2030.64,0.64)(2030.70,2.22)(2030.74,1.36)(2030.79,1.83)(2030.85,1.58)(2030.89,2.68)(2030.94,1.99)(2030.99,1.24)
(2031.04,1.69)(2031.10,2.23)(2031.14,1.51)(2031.19,2.47)(2031.25,0.76)(2031.29,2.06)(2031.34,1.27)(2031.40,1.82)(2031.44,2.29)(2031.49,1.65)(2031.55,2.86)(2031.59,1.21)(2031.64,2.14)(2031.70,1.44)(2031.74,1.73)(2031.79,2.61)(2031.85,0.98)(2031.89,2.42)(2031.94,1.57)(2031.99,1.97)
(2032.04,2.11)(2032.10,1.61)(2032.14,3.17)(2032.19,1.15)(2032.25,1.89)(2032.29,2.66)(2032.34,1.41)(2032.40,2.28)(2032.44,1.70)(2032.49,0.98)(2032.55,2.54)(2032.59,2.05)(2032.64,1.34)(2032.70,1.85)(2032.74,2.39)(2032.79,0.60)(2032.85,2.20)(2032.89,1.76)(2032.94,2.73)(2032.99,1.49)
(2033.04,1.64)(2033.10,3.08)(2033.14,1.45)(2033.19,2.13)(2033.25,1.80)(2033.29,2.40)(2033.34,0.93)(2033.40,2.62)(2033.44,1.69)(2033.49,2.06)(2033.55,1.32)(2033.59,2.29)(2033.64,1.51)(2033.70,2.88)(2033.74,1.93)(2033.79,2.20)(2033.85,1.17)(2033.89,1.60)(2033.94,2.53)(2033.99,1.86)
(2034.04,2.98)(2034.10,1.64)(2034.14,1.90)(2034.19,2.73)(2034.25,2.17)(2034.29,1.18)(2034.34,2.31)(2034.40,1.74)(2034.44,2.54)(2034.49,1.47)(2034.55,2.09)(2034.59,1.82)(2034.64,2.82)(2034.70,1.10)(2034.74,2.23)(2034.79,1.61)(2034.85,2.66)(2034.89,1.96)(2034.94,1.33)(2034.99,2.40)
(2035.04,1.54)(2035.10,2.29)(2035.14,2.98)(2035.19,1.88)(2035.25,2.13)(2035.29,1.66)(2035.34,2.52)(2035.40,0.94)(2035.44,2.73)(2035.49,1.79)(2035.55,2.36)(2035.59,1.41)(2035.64,2.60)(2035.70,2.04)(2035.74,3.17)(2035.79,1.59)(2035.85,1.96)(2035.89,2.44)(2035.94,1.27)(2035.99,2.81)
(2036.04,2.27)(2036.10,1.87)(2036.14,2.72)(2036.19,1.28)(2036.25,2.91)(2036.29,2.03)(2036.34,1.74)(2036.40,2.44)(2036.44,1.51)(2036.49,3.16)(2036.55,1.95)(2036.59,2.59)(2036.64,2.12)(2036.70,1.57)(2036.74,2.36)(2036.79,1.06)(2036.85,2.77)(2036.89,1.81)(2036.94,2.53)(2036.99,1.99)
(2037.04,1.75)(2037.10,2.99)(2037.14,2.02)(2037.19,2.46)(2037.25,0.91)(2037.29,2.65)(2037.34,2.11)(2037.40,1.60)(2037.44,2.31)(2037.49,2.80)(2037.55,1.24)(2037.59,1.96)(2037.64,2.54)(2037.70,1.67)(2037.74,2.92)(2037.79,2.15)(2037.85,1.41)(2037.89,3.43)(2037.94,1.87)(2037.99,2.37)
(2038.04,2.10)(2038.10,2.77)(2038.14,1.84)(2038.19,1.41)(2038.25,2.44)(2038.29,2.17)(2038.34,3.12)(2038.40,1.75)(2038.44,2.53)(2038.49,1.56)(2038.55,2.30)(2038.59,1.93)(2038.64,2.86)(2038.70,1.17)(2038.74,2.64)(2038.79,2.04)(2038.85,2.37)(2038.89,1.69)(2038.94,3.32)(2038.99,1.88)
(2039.04,2.60)(2039.10,1.53)(2039.14,2.16)(2039.19,2.86)(2039.25,1.81)(2039.29,2.43)(2039.34,1.30)(2039.40,3.02)(2039.44,2.02)(2039.49,2.29)(2039.55,1.67)(2039.59,2.74)(2039.64,1.94)(2039.70,2.51)(2039.74,1.38)(2039.79,2.37)(2039.85,2.93)(2039.89,2.10)(2039.94,1.84)(2039.99,3.18)
};
\addplot[rd, line width=1.6pt] coordinates {
(1990,0.65)(1992,0.65)(1993,0.66)(1995,0.685)(1997,0.715)(2000,0.76)(2002.5,0.80)(2005,0.84)(2008,0.895)(2010,0.93)(2012.5,0.975)(2015,1.02)(2017.5,1.065)(2020,1.11)(2022.5,1.16)(2025,1.22)(2027.5,1.275)(2030,1.33)(2032.5,1.385)(2035,1.44)(2037.5,1.50)(2040,1.57)
};
\addplot[mg, line width=1.6pt] coordinates {
(1990,0.65)(1993,0.65)(1995,0.66)(1997,0.68)(2000,0.70)(2002.5,0.715)(2005,0.745)(2008,0.80)(2010,0.83)(2012.5,0.875)(2015,0.925)(2017.5,0.96)(2020,1.00)(2022.5,1.05)(2025,1.10)(2027.5,1.16)(2030,1.23)(2032.5,1.29)(2035,1.35)(2037.5,1.42)(2040,1.49)
};
\addplot[bk, line width=1.6pt] coordinates {
(1990,0.65)(1995,0.655)(2000,0.67)(2005,0.695)(2010,0.73)(2015,0.78)(2020,0.83)(2025,0.895)(2030,0.975)(2035,1.05)(2040,1.13)
};
\end{axis}
\node[anchor=base west, inner sep=0pt] at (5.5pt,171.6pt) {T adaptation Kalman};
\node[anchor=base west, inner sep=0pt] at (5.5pt,158.6pt) {T adaptation exponential};
\node[anchor=base west, inner sep=0pt] at (5.5pt,145.5pt) {T reactive adaptation};
\draw[rd, line width=1.6pt] (210pt,177.5pt) -- (247pt,177.5pt);
\draw[mg, line width=1.6pt] (210pt,164.5pt) -- (247pt,164.5pt);
\draw[bk, line width=1.6pt] (210pt,151.5pt) -- (247pt,151.5pt);
\end{tikzpicture}
\end{document}
